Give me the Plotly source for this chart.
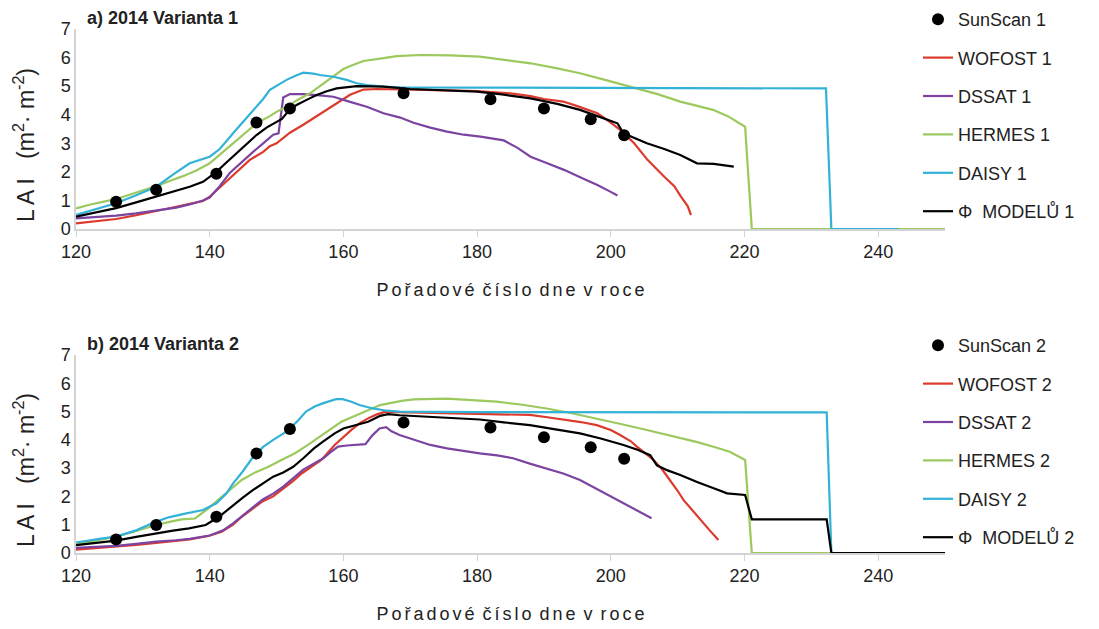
import plotly.graph_objects as go

# ---------------- data ----------------
sunscan_days = [126, 132, 141, 147, 152, 169, 182, 190, 197, 202]
sunscan1 = [0.95, 1.37, 1.93, 3.73, 4.22, 4.75, 4.54, 4.22, 3.84, 3.28]
sunscan2 = [0.48, 0.99, 1.28, 3.52, 4.38, 4.61, 4.44, 4.09, 3.74, 3.33]

wofost1_d = [120, 123, 126, 129, 132, 135, 137, 139, 140, 142, 144, 146, 148, 149, 150, 152, 154, 155, 157, 159, 161, 163, 165, 170, 175, 180, 185, 188, 190, 192.9, 195, 198, 200, 201.5, 203.5, 205.5, 208, 209.5, 210.5, 211.5, 212]
wofost1_v = [0.20, 0.27, 0.35, 0.48, 0.62, 0.78, 0.88, 0.98, 1.13, 1.55, 2.0, 2.42, 2.7, 2.9, 3.0, 3.37, 3.65, 3.8, 4.1, 4.4, 4.7, 4.88, 4.9, 4.88, 4.86, 4.83, 4.75, 4.65, 4.55, 4.46, 4.3, 4.05, 3.72, 3.45, 3.0, 2.42, 1.83, 1.5, 1.13, 0.8, 0.49]

dssat1_d = [120, 123, 126, 129, 132, 135, 137, 139, 140, 141.5, 143, 145, 146.5, 148, 149.5, 150.3, 151, 152, 154, 156.5, 158.5, 161, 163.5, 166, 168.5, 170.5, 173, 175.5, 178, 180.5, 184, 186, 188, 190.5, 193, 195.5, 198, 200, 201]
dssat1_v = [0.37, 0.42, 0.47, 0.55, 0.64, 0.75, 0.86, 1.0, 1.1, 1.5, 1.96, 2.4, 2.7, 3.0, 3.3, 3.35, 4.6, 4.72, 4.72, 4.68, 4.63, 4.45, 4.28, 4.05, 3.9, 3.72, 3.55, 3.41, 3.3, 3.23, 3.1, 2.85, 2.53, 2.3, 2.07, 1.8, 1.54, 1.3, 1.17]

hermes1_d = [120, 122, 124, 126, 128, 130, 132, 134, 136, 138, 140, 142, 144, 146, 147, 149, 150, 152, 153, 155, 156, 157.5, 159, 160, 161.5, 163, 165.5, 168, 171.5, 176, 180.4, 184, 188, 192, 195.4, 199, 203, 207, 210.4, 213, 215.3, 217.5, 220.1, 221.1, 250]
hermes1_v = [0.72, 0.85, 0.95, 1.05, 1.2, 1.35, 1.5, 1.68, 1.85, 2.05, 2.3, 2.7, 3.1, 3.5, 3.7, 3.95, 4.1, 4.35, 4.5, 4.75, 4.92, 5.15, 5.4, 5.6, 5.75, 5.88, 5.96, 6.05, 6.09, 6.08, 6.03, 5.93, 5.8, 5.62, 5.45, 5.23, 4.98, 4.72, 4.46, 4.3, 4.17, 3.95, 3.58, 0, 0]

daisy1_d = [120, 123, 126, 129, 132, 134.5, 137, 140, 141.5, 143.5, 145, 146.5, 148, 149, 150.5, 151.5, 153, 154, 155.5, 156.5, 158.5, 160.5, 162, 163.5, 166, 168.5, 180, 200, 220, 232.2, 233, 243]
daisy1_v = [0.49, 0.7, 0.9, 1.18, 1.48, 1.9, 2.3, 2.53, 2.8, 3.35, 3.75, 4.17, 4.55, 4.87, 5.07, 5.22, 5.38, 5.47, 5.44, 5.39, 5.33, 5.22, 5.1, 5.04, 4.98, 4.96, 4.95, 4.93, 4.93, 4.92, 0, 0]

models1_d = [120, 123, 126, 129, 132, 135, 137, 139, 141, 142.5, 144, 145.5, 147, 148.5, 150, 150.8, 151.5, 153, 154.5, 156, 157.5, 159, 162, 166, 170, 175, 180, 184, 188, 192, 195.4, 198, 200.4, 201, 201.9, 203.5, 205.4, 208, 210.4, 212.9, 215.4, 218.4]
models1_v = [0.43, 0.58, 0.73, 0.93, 1.13, 1.33, 1.48, 1.65, 2.0, 2.33, 2.65, 2.97, 3.29, 3.55, 3.76, 3.85, 4.05, 4.34, 4.52, 4.69, 4.82, 4.92, 5.0, 4.98, 4.9, 4.86, 4.81, 4.7, 4.57, 4.38, 4.17, 3.95, 3.76, 3.7, 3.35, 3.2, 3.0, 2.8, 2.59, 2.3, 2.28, 2.18]

wofost2_d = [120, 123, 126, 129, 132, 135, 137, 139.8, 141.8, 143.5, 144.8, 146.5, 147.8, 149.5, 150.8, 152.5, 153.8, 155.5, 156.7, 158.7, 160, 161.2, 162.5, 163.7, 165, 166.2, 170, 175, 180, 185, 187.9, 190.5, 192.9, 195.5, 197.9, 200, 201.4, 203, 203.9, 205, 206.4, 207.7, 208.9, 210, 210.9, 212.2, 213.4, 214.8, 216.1]
wofost2_v = [0.12, 0.17, 0.22, 0.29, 0.36, 0.43, 0.48, 0.6, 0.75, 1.0, 1.28, 1.58, 1.81, 2.0, 2.23, 2.55, 2.82, 3.1, 3.29, 3.82, 4.1, 4.35, 4.6, 4.76, 4.9, 4.99, 4.97, 4.95, 4.93, 4.9, 4.88, 4.8, 4.72, 4.63, 4.52, 4.35, 4.17, 3.95, 3.76, 3.55, 3.29, 2.95, 2.58, 2.2, 1.87, 1.5, 1.17, 0.8, 0.46]

dssat2_d = [120, 123, 126, 129, 132, 135, 137, 140, 142, 143.5, 145, 146.5, 148, 149.5, 151, 152.5, 154, 155.5, 157, 158, 159.2, 160.5, 162, 163.3, 164.3, 165.4, 166.4, 167.2, 168.4, 170.5, 173, 175.5, 178, 180.4, 183, 185.4, 188, 190.4, 193, 195.4, 198, 200.4, 203, 206.1]
dssat2_v = [0.18, 0.22, 0.25, 0.32, 0.4, 0.45, 0.5, 0.62, 0.8, 1.05, 1.35, 1.62, 1.9, 2.1, 2.35, 2.65, 2.95, 3.15, 3.35, 3.55, 3.76, 3.8, 3.82, 3.85, 4.15, 4.4, 4.45, 4.3, 4.17, 4.0, 3.82, 3.7, 3.6, 3.52, 3.45, 3.35, 3.15, 2.99, 2.8, 2.58, 2.25, 1.93, 1.6, 1.23]

hermes2_d = [120, 123, 126, 129, 132, 134, 135.8, 137.8, 139.8, 141.8, 143.3, 144.8, 146.8, 148.8, 150.8, 152.7, 154.7, 156.7, 158.2, 159.7, 161.7, 163.7, 165.5, 168.7, 170.5, 175.5, 179, 182.9, 186.5, 190.4, 194, 197.9, 201.5, 205.4, 209, 212.8, 215.5, 217.8, 220.1, 221.1, 250]
hermes2_v = [0.3, 0.45, 0.58, 0.78, 0.99, 1.1, 1.19, 1.22, 1.58, 1.99, 2.3, 2.58, 2.85, 3.05, 3.3, 3.52, 3.82, 4.17, 4.4, 4.64, 4.85, 5.05, 5.23, 5.38, 5.43, 5.46, 5.42, 5.35, 5.25, 5.11, 4.95, 4.76, 4.56, 4.35, 4.15, 3.93, 3.75, 3.58, 3.29, 0, 0]

daisy2_d = [120, 122, 124, 126, 129, 132, 134, 136.5, 139, 141, 142.5, 143.5, 145, 146.5, 148, 149.5, 151, 152, 153.3, 154.4, 155.7, 156.9, 158.9, 159.9, 161.2, 162.4, 164.4, 166.5, 168.4, 180, 200, 232.3, 233, 243]
daisy2_v = [0.37, 0.45, 0.52, 0.58, 0.8, 1.11, 1.27, 1.4, 1.52, 1.76, 2.1, 2.46, 2.9, 3.4, 3.75, 4.0, 4.22, 4.4, 4.7, 5.0, 5.18, 5.29, 5.44, 5.44, 5.35, 5.23, 5.11, 5.03, 5.0, 4.98, 4.97, 4.97, 0, 0]

models2_d = [120, 123, 126, 129, 132, 134.5, 136.9, 139.4, 141.4, 143.5, 145, 146.5, 148, 149.5, 151, 152.5, 154, 155.6, 157, 158.7, 160, 162, 163.7, 165.5, 166.7, 168.4, 172, 176, 180.4, 184, 187.9, 191.5, 195.4, 198.5, 201.9, 204, 205.9, 206.9, 208.5, 210.4, 213, 215.4, 217.4, 220.1, 221.1, 232.3, 233, 250]
models2_v = [0.28, 0.36, 0.44, 0.57, 0.7, 0.79, 0.87, 0.99, 1.28, 1.7, 1.97, 2.23, 2.47, 2.7, 2.85, 3.05, 3.35, 3.7, 3.95, 4.23, 4.4, 4.53, 4.64, 4.85, 4.91, 4.87, 4.82, 4.78, 4.72, 4.62, 4.52, 4.38, 4.23, 4.05, 3.82, 3.65, 3.46, 3.1, 2.92, 2.76, 2.5, 2.29, 2.11, 2.05, 1.19, 1.19, 0, 0]

x_ticks = [120, 140, 160, 180, 200, 220, 240]
y_ticks = [0, 1, 2, 3, 4, 5, 6, 7]

# ---------------- styles ----------------
FONT = "Arial, Liberation Sans, sans-serif"
C_WOF = "#dc3a2c"
C_DSS = "#7b44a0"
C_HER = "#9cc95e"
C_DAI = "#33b2d8"
C_MOD = "#000000"
AXC = "#d4d4d4"

fig = go.Figure()


def add_panel(n, xa, ya, leg, sun, wd, wv, dd, dv, hd, hv, ad, av, md, mv):
    lines = [
        (f"WOFOST {n}", wd, wv, C_WOF, 2),
        (f"DSSAT {n}", dd, dv, C_DSS, 3),
        (f"HERMES {n}", hd, hv, C_HER, 4),
        (f"DAISY {n}", ad, av, C_DAI, 5),
        (f"Φ\u00a0 MODELŮ {n}", md, mv, C_MOD, 6),
    ]
    for name, d, v, c, rank in lines:
        fig.add_trace(go.Scatter(
            x=d, y=v, mode="lines", name=name,
            line=dict(color=c, width=2.2),
            xaxis=xa, yaxis=ya, legend=leg,
            legendgroup=name, legendrank=rank,
        ))
    fig.add_trace(go.Scatter(
        x=sunscan_days, y=sun, mode="markers", name=f"SunScan {n}",
        marker=dict(color="black", size=12),
        xaxis=xa, yaxis=ya, legend=leg,
        legendgroup=f"SunScan {n}", legendrank=1,
    ))


add_panel(1, "x", "y", "legend", sunscan1, wofost1_d, wofost1_v, dssat1_d, dssat1_v,
          hermes1_d, hermes1_v, daisy1_d, daisy1_v, models1_d, models1_v)
add_panel(2, "x2", "y2", "legend2", sunscan2, wofost2_d, wofost2_v, dssat2_d, dssat2_v,
          hermes2_d, hermes2_v, daisy2_d, daisy2_v, models2_d, models2_v)

W, H = 1099, 629
L, R, T, B = 76, 945, 29, 553
ph = B - T


def py(pix):
    return (B - pix) / ph


def px(pix):
    return (pix - L) / (R - L)


SP = "\u2006"
def spaced(words):
    return " \u2006".join(SP.join(list(w)) for w in words.split(" "))


xtitle = spaced("Pořadové číslo dne v roce")
ytitle = "L A I\u00a0\u00a0 (m<sup>2</sup>· m<sup>-2</sup>)" + "\u00a0" * 5 + "\u200b"

xaxis_common = dict(
    range=[120, 250], tickvals=x_ticks, showline=True, linecolor=AXC, linewidth=1.5,
    ticks="outside", ticklen=6, tickcolor=AXC, showgrid=False, zeroline=False,
    tickfont=dict(size=18, color="#222"), automargin=False,
    title=dict(text=xtitle, font=dict(size=18, color="#222"), standoff=22),
)
yaxis_common = dict(
    range=[0, 7], tickvals=y_ticks, showline=True, linecolor=AXC, linewidth=1.5,
    ticks="", showgrid=False, zeroline=False, automargin=False,
    tickfont=dict(size=18, color="#222"),
    title=dict(text=ytitle, font=dict(size=23, color="#222"), standoff=20),
)

legend_common = dict(
    xanchor="left", yanchor="top", xref="container", yref="container",
    font=dict(size=18, color="#222", family=FONT),
    tracegroupgap=12, itemwidth=30, bgcolor="rgba(0,0,0,0)", traceorder="grouped",
)

fig.update_layout(
    width=W, height=H,
    margin=dict(l=L, r=W - R, t=T, b=H - B, autoexpand=False),
    paper_bgcolor="white", plot_bgcolor="white",
    font=dict(family=FONT, color="#222"),
    xaxis=dict(domain=[0, 1], anchor="y", **xaxis_common),
    yaxis=dict(domain=[py(229), 1], anchor="x", **yaxis_common),
    xaxis2=dict(domain=[0, 1], anchor="y2", **xaxis_common),
    yaxis2=dict(domain=[0, py(355)], anchor="x2", **yaxis_common),
    legend=dict(x=918 / W, y=1 - 1 / H, **legend_common),
    legend2=dict(x=918 / W, y=1 - 327 / H, **legend_common),
    showlegend=True,
    annotations=[
        dict(text="<b>a) 2014 Varianta 1</b>", x=px(85), y=py(18), xref="paper", yref="paper",
             xanchor="left", yanchor="middle", showarrow=False, font=dict(size=18, color="#222")),
        dict(text="<b>b) 2014 Varianta 2</b>", x=px(85), y=py(344), xref="paper", yref="paper",
             xanchor="left", yanchor="middle", showarrow=False, font=dict(size=18, color="#222")),
    ],
)

fig.write_html("out.html")
